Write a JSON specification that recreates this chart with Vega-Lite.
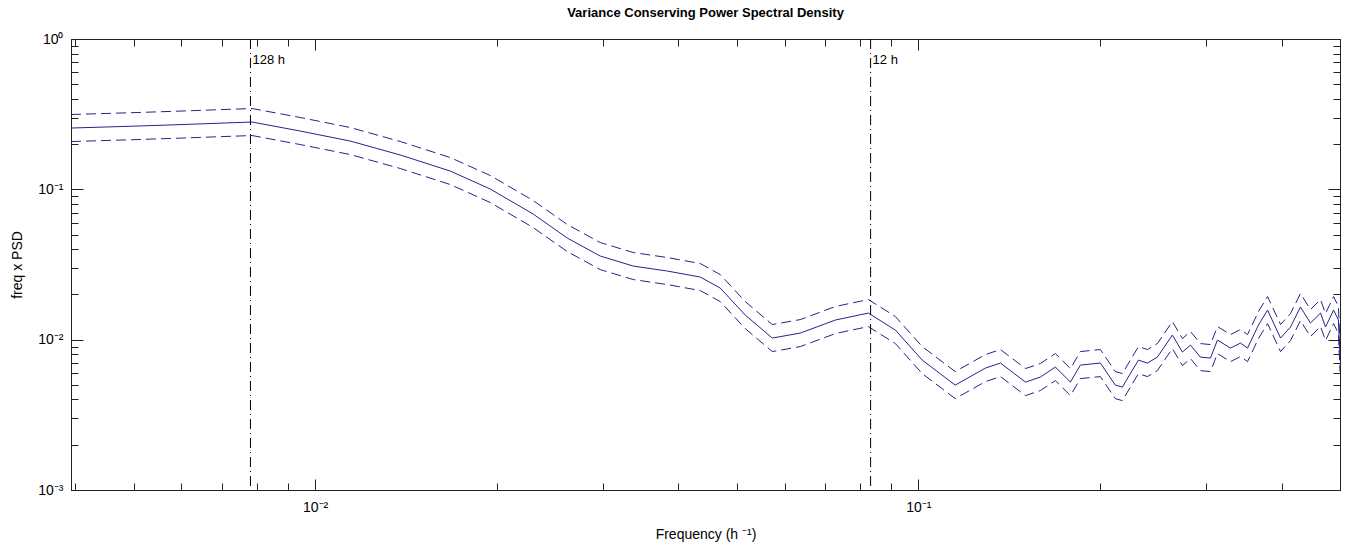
{
  "$schema": "https://vega.github.io/schema/vega-lite/v6.json",
  "width": 1269,
  "height": 451,
  "autosize": {"type": "none"},
  "padding": {"left": 71, "top": 39, "right": 12, "bottom": 68},
  "background": "white",
  "title": {"text": "Variance Conserving Power Spectral Density", "font": "Liberation Sans", "fontSize": 13, "fontWeight": "bold", "color": "#000000", "anchor": "middle", "offset": 12},
  "config": {
    "view": {"stroke": null},
    "axis": {"domainColor": "#222222", "tickColor": "#222222", "labelColor": "#000000", "titleColor": "#000000", "labelFont": "Liberation Sans", "titleFont": "Liberation Sans", "labelFontSize": 14, "titleFontSize": 14, "titleFontWeight": "normal", "grid": false, "domainWidth": 1, "tickWidth": 1}
  },
  "datasets": {
    "psd": [
      {"f": 0.003938, "c": 0.2557, "hi": 0.3145, "lo": 0.2079},
      {"f": 0.005086, "c": 0.2637, "hi": 0.3244, "lo": 0.2144},
      {"f": 0.00604, "c": 0.2699, "hi": 0.332, "lo": 0.2194},
      {"f": 0.00786, "c": 0.2804, "hi": 0.3449, "lo": 0.228},
      {"f": 0.009443, "c": 0.2443, "hi": 0.3005, "lo": 0.1986},
      {"f": 0.01143, "c": 0.2096, "hi": 0.2578, "lo": 0.1704},
      {"f": 0.01384, "c": 0.1692, "hi": 0.2081, "lo": 0.1376},
      {"f": 0.01675, "c": 0.1323, "hi": 0.1627, "lo": 0.1076},
      {"f": 0.01951, "c": 0.1005, "hi": 0.1236, "lo": 0.08171},
      {"f": 0.02298, "c": 0.06852, "hi": 0.08428, "lo": 0.05571},
      {"f": 0.02618, "c": 0.04742, "hi": 0.05833, "lo": 0.03855},
      {"f": 0.02969, "c": 0.03599, "hi": 0.04427, "lo": 0.02926},
      {"f": 0.03368, "c": 0.03088, "hi": 0.03798, "lo": 0.02511},
      {"f": 0.03836, "c": 0.0286, "hi": 0.03518, "lo": 0.02325},
      {"f": 0.0435, "c": 0.02609, "hi": 0.03209, "lo": 0.02121},
      {"f": 0.04694, "c": 0.02204, "hi": 0.02711, "lo": 0.01792},
      {"f": 0.05164, "c": 0.01458, "hi": 0.01793, "lo": 0.01185},
      {"f": 0.05726, "c": 0.01025, "hi": 0.01261, "lo": 0.008333},
      {"f": 0.06371, "c": 0.01106, "hi": 0.0136, "lo": 0.008992},
      {"f": 0.07285, "c": 0.01351, "hi": 0.01662, "lo": 0.01098},
      {"f": 0.08262, "c": 0.01503, "hi": 0.01849, "lo": 0.01222},
      {"f": 0.0916, "c": 0.01158, "hi": 0.01424, "lo": 0.009415},
      {"f": 0.1015, "c": 0.00731, "hi": 0.008991, "lo": 0.005943},
      {"f": 0.1151, "c": 0.004986, "hi": 0.006133, "lo": 0.004054},
      {"f": 0.1292, "c": 0.006473, "hi": 0.007962, "lo": 0.005263},
      {"f": 0.1368, "c": 0.006988, "hi": 0.008595, "lo": 0.005681},
      {"f": 0.1505, "c": 0.005222, "hi": 0.006423, "lo": 0.004246},
      {"f": 0.1593, "c": 0.005638, "hi": 0.006935, "lo": 0.004584},
      {"f": 0.1687, "c": 0.006572, "hi": 0.008084, "lo": 0.005343},
      {"f": 0.1787, "c": 0.005222, "hi": 0.006423, "lo": 0.004246},
      {"f": 0.1856, "c": 0.006776, "hi": 0.008334, "lo": 0.005509},
      {"f": 0.2003, "c": 0.006988, "hi": 0.008595, "lo": 0.005681},
      {"f": 0.2121, "c": 0.004986, "hi": 0.006133, "lo": 0.004054},
      {"f": 0.2179, "c": 0.004835, "hi": 0.005947, "lo": 0.003931},
      {"f": 0.2264, "c": 0.006276, "hi": 0.007719, "lo": 0.005102},
      {"f": 0.2317, "c": 0.00731, "hi": 0.008991, "lo": 0.005943},
      {"f": 0.2398, "c": 0.006988, "hi": 0.008595, "lo": 0.005681},
      {"f": 0.249, "c": 0.007657, "hi": 0.009418, "lo": 0.006225},
      {"f": 0.2637, "c": 0.01073, "hi": 0.0132, "lo": 0.008724},
      {"f": 0.274, "c": 0.00827, "hi": 0.01017, "lo": 0.006724},
      {"f": 0.2825, "c": 0.009207, "hi": 0.01132, "lo": 0.007485},
      {"f": 0.2935, "c": 0.007657, "hi": 0.009418, "lo": 0.006225},
      {"f": 0.3049, "c": 0.007542, "hi": 0.009277, "lo": 0.006132},
      {"f": 0.3132, "c": 0.009938, "hi": 0.01222, "lo": 0.00808},
      {"f": 0.3292, "c": 0.00879, "hi": 0.01081, "lo": 0.007146},
      {"f": 0.342, "c": 0.009493, "hi": 0.01168, "lo": 0.007718},
      {"f": 0.3513, "c": 0.00879, "hi": 0.01081, "lo": 0.007146},
      {"f": 0.3663, "c": 0.01251, "hi": 0.01539, "lo": 0.01017},
      {"f": 0.3792, "c": 0.01573, "hi": 0.01935, "lo": 0.01279},
      {"f": 0.3985, "c": 0.01025, "hi": 0.01261, "lo": 0.008333},
      {"f": 0.4139, "c": 0.01213, "hi": 0.01492, "lo": 0.009862},
      {"f": 0.43, "c": 0.01648, "hi": 0.02027, "lo": 0.0134},
      {"f": 0.4467, "c": 0.0129, "hi": 0.01587, "lo": 0.01049},
      {"f": 0.4642, "c": 0.01503, "hi": 0.01849, "lo": 0.01222},
      {"f": 0.4731, "c": 0.01213, "hi": 0.01492, "lo": 0.009862},
      {"f": 0.4879, "c": 0.01573, "hi": 0.01935, "lo": 0.01279},
      {"f": 0.497, "c": 0.01351, "hi": 0.01662, "lo": 0.01098},
      {"f": 0.5, "c": 0.00754, "hi": 0.009274, "lo": 0.00613}
    ],
    "marks": [
      {"f": 0.0078125, "ty": 0.725, "lab": "128 h"},
      {"f": 0.083333, "ty": 0.725, "lab": "12 h"}
    ]
  },
  "layer": [
    {
      "data": {"name": "psd"},
      "mark": {"type": "line", "color": "#23238c", "strokeWidth": 1, "clip": true},
      "encoding": {
        "x": {"field": "f", "type": "quantitative", "scale": {"type": "log", "domain": [0.003938, 0.5]},
          "axis": {"orient": "bottom", "values": [0.01, 0.1], "tickSize": -11, "labelPadding": 21, "labelExpr": "datum.value < 0.05 ? '10\u207b\u00b2' : '10\u207b\u00b9'", "title": "Frequency (h \u207b\u00b9)", "titlePadding": 13}},
        "y": {"field": "c", "type": "quantitative", "scale": {"type": "log", "domain": [0.001, 1]},
          "axis": {"orient": "left", "values": [0.001, 0.01, 0.1, 1], "tickSize": -12, "labelPadding": 20, "labelExpr": "datum.value > 0.5 ? '10\u2070' : datum.value > 0.05 ? '10\u207b\u00b9' : datum.value > 0.005 ? '10\u207b\u00b2' : '10\u207b\u00b3'", "title": "freq x PSD", "titlePadding": 13}}
      }
    },
    {
      "data": {"name": "psd"},
      "mark": {"type": "line", "color": "#23238c", "strokeWidth": 1, "strokeDash": [10, 5], "clip": true},
      "encoding": {
        "x": {"field": "f", "type": "quantitative", "scale": {"type": "log", "domain": [0.003938, 0.5]},
          "axis": {"orient": "bottom", "values": [0.004, 0.005, 0.006, 0.007, 0.008, 0.009, 0.02, 0.03, 0.04, 0.05, 0.06, 0.07, 0.08, 0.09, 0.2, 0.3, 0.4], "tickSize": -7, "labels": false, "title": null}},
        "y": {"field": "hi", "type": "quantitative", "scale": {"type": "log", "domain": [0.001, 1]},
          "axis": {"orient": "left", "values": [0.002, 0.003, 0.004, 0.005, 0.006, 0.007, 0.008, 0.009, 0.02, 0.03, 0.04, 0.05, 0.06, 0.07, 0.08, 0.09, 0.2, 0.3, 0.4, 0.5, 0.6, 0.7, 0.8, 0.9], "tickSize": -7, "labels": false, "title": null}}
      }
    },
    {
      "data": {"name": "psd"},
      "mark": {"type": "line", "color": "#23238c", "strokeWidth": 1, "strokeDash": [10, 5], "clip": true},
      "encoding": {
        "x": {"field": "f", "type": "quantitative", "scale": {"type": "log", "domain": [0.003938, 0.5]},
          "axis": {"orient": "top", "values": [0.004, 0.005, 0.006, 0.007, 0.008, 0.009, 0.02, 0.03, 0.04, 0.05, 0.06, 0.07, 0.08, 0.09, 0.2, 0.3, 0.4], "tickSize": -7, "labels": false, "title": null}},
        "y": {"field": "lo", "type": "quantitative", "scale": {"type": "log", "domain": [0.001, 1]},
          "axis": {"orient": "right", "values": [0.002, 0.003, 0.004, 0.005, 0.006, 0.007, 0.008, 0.009, 0.02, 0.03, 0.04, 0.05, 0.06, 0.07, 0.08, 0.09, 0.2, 0.3, 0.4, 0.5, 0.6, 0.7, 0.8, 0.9], "tickSize": -7, "labels": false, "title": null}}
      }
    },
    {
      "data": {"name": "marks"},
      "mark": {"type": "rule", "color": "#000000", "strokeWidth": 1, "strokeDash": [10, 4, 1, 4]},
      "encoding": {
        "x": {"field": "f", "type": "quantitative", "scale": {"type": "log", "domain": [0.003938, 0.5]},
          "axis": {"orient": "top", "values": [0.01, 0.1], "tickSize": -11, "labels": false, "title": null}}
      }
    },
    {
      "data": {"name": "marks"},
      "mark": {"type": "text", "align": "left", "baseline": "middle", "dx": 2, "font": "Liberation Sans", "fontSize": 13, "color": "#000000"},
      "encoding": {
        "x": {"field": "f", "type": "quantitative", "scale": {"type": "log", "domain": [0.003938, 0.5]}, "axis": null},
        "y": {"field": "ty", "type": "quantitative", "scale": {"type": "log", "domain": [0.001, 1]},
          "axis": {"orient": "right", "values": [0.001, 0.01, 0.1, 1], "tickSize": -12, "labels": false, "title": null}},
        "text": {"field": "lab"}
      }
    }
  ],
  "resolve": {"axis": {"x": "independent", "y": "independent"}}
}
